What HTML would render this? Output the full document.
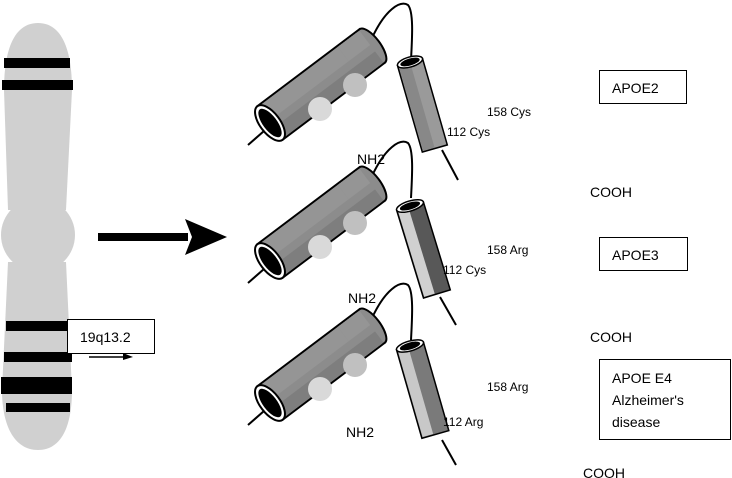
<!DOCTYPE html>
<html><head><meta charset="utf-8"><style>
html,body{margin:0;padding:0;background:#fff;}
svg{display:block;}
text{font-family:"Liberation Sans",sans-serif;fill:#000;}
</style></head><body>
<svg width="732" height="478" viewBox="0 0 732 478" xmlns="http://www.w3.org/2000/svg">
<!-- chromosome -->
<path d="M38,23 C62,23 72,50 72,90 L66,210 L8,210 L4,90 C4,50 14,23 38,23 Z" fill="#d0d0d0"/>
<path d="M8,262 L66,262 L72,390 C72,425 62,450 38,450 C14,450 2,425 2,390 Z" fill="#d0d0d0"/>
<circle cx="38" cy="235" r="37" fill="#d0d0d0"/>
<rect x="4" y="58" width="66" height="10" fill="#000"/>
<rect x="2" y="80" width="71" height="10" fill="#000"/>
<rect x="6" y="321" width="64" height="10" fill="#000"/>
<rect x="4" y="352" width="68" height="10" fill="#000"/>
<rect x="1" y="377" width="71" height="17" fill="#000"/>
<rect x="6" y="403" width="64" height="9" fill="#000"/>
<rect x="67.5" y="319.5" width="87" height="34" fill="#fff" stroke="#000" stroke-width="1"/>
<text x="80" y="342" font-size="14">19q13.2</text>
<line x1="89" y1="357" x2="125" y2="357" stroke="#000" stroke-width="1.5"/>
<polygon points="123,353 133,357 123,360" fill="#000"/>
<!-- big arrow -->
<rect x="98" y="233" width="90" height="8" fill="#000"/>
<polygon points="185,219 227,237 185,255 192,237" fill="#000"/>

<defs>
<g id="big">
  <line x1="248" y1="145" x2="272" y2="124" stroke="#000" stroke-width="2"/>
  <path d="M372,38 C385,10 400,0 408,5 C414,12 412,40 411,60" fill="none" stroke="#000" stroke-width="2"/>
  <g transform="translate(270,123) rotate(-37)">
    <rect x="0" y="-21" width="128" height="42" fill="#8c8c8c" stroke="#000" stroke-width="2"/>
    <rect x="1" y="-20" width="127" height="18" fill="#959595"/>
    <rect x="1" y="6" width="127" height="14" fill="#7e7e7e"/>
    <ellipse cx="128" cy="0" rx="8" ry="21" fill="#8c8c8c" stroke="#000" stroke-width="2"/>
    <rect x="100" y="-20" width="27" height="40" fill="#8c8c8c"/>
    <rect x="100" y="-20" width="27" height="18" fill="#959595"/>
    <rect x="100" y="6" width="27" height="14" fill="#7e7e7e"/>
    <ellipse cx="0" cy="0" rx="10" ry="21" fill="#fff" stroke="#000" stroke-width="2"/>
    <ellipse cx="0" cy="0" rx="7" ry="17" fill="#000"/>
  </g>
  <circle cx="320" cy="109" r="12" fill="#d9d9d9"/>
  <circle cx="355" cy="85" r="12" fill="#c0c0c0"/>
</g>
</defs>

<!-- group 1 -->
<use href="#big"/>
<line x1="442" y1="150" x2="458" y2="180" stroke="#000" stroke-width="2"/>
<g transform="translate(410,62) rotate(74)">
  <rect x="0" y="-13" width="90" height="26" fill="#9a9a9a" stroke="#000" stroke-width="1.5"/>
  <rect x="1" y="0" width="88" height="12" fill="#888"/>
  <ellipse cx="0" cy="0" rx="5" ry="13" fill="#fff" stroke="#000" stroke-width="1.5"/>
  <ellipse cx="0" cy="0" rx="3.5" ry="10" fill="#000"/>
</g>
<!-- group 2 -->
<use href="#big" transform="translate(0,138)"/>
<line x1="440" y1="297" x2="456" y2="325" stroke="#000" stroke-width="2"/>
<g transform="translate(410,206) rotate(73)">
  <rect x="0" y="-14" width="92" height="28" fill="#585858" stroke="#000" stroke-width="1.5"/>
  <rect x="1" y="2" width="90" height="11" fill="#d0d0d0"/>
  <ellipse cx="0" cy="0" rx="5" ry="14" fill="#fff" stroke="#000" stroke-width="1.5"/>
  <ellipse cx="0" cy="0" rx="3.5" ry="10.5" fill="#000"/>
</g>
<!-- group 3 -->
<use href="#big" transform="translate(0,280)"/>
<line x1="442" y1="440" x2="456" y2="465" stroke="#000" stroke-width="2"/>
<g transform="translate(410,346) rotate(74)">
  <rect x="0" y="-14" width="92" height="28" fill="#7a7a7a" stroke="#000" stroke-width="1.5"/>
  <rect x="1" y="2" width="90" height="11" fill="#c8c8c8"/>
  <ellipse cx="0" cy="0" rx="5" ry="14" fill="#fff" stroke="#000" stroke-width="1.5"/>
  <ellipse cx="0" cy="0" rx="3.5" ry="10.5" fill="#000"/>
</g>

<!-- labels -->
<g font-size="12">
<text x="487" y="116">158 Cys</text>
<text x="447" y="136">112 Cys</text>
<text x="487" y="254">158 Arg</text>
<text x="443" y="274">112 Cys</text>
<text x="487" y="391">158 Arg</text>
<text x="443" y="426">112 Arg</text>
</g>
<g font-size="14">
<text x="357" y="164">NH2</text>
<text x="348" y="303">NH2</text>
<text x="346" y="437">NH2</text>
<text x="590" y="197">COOH</text>
<text x="590" y="342">COOH</text>
<text x="583" y="478">COOH</text>
</g>
<rect x="599.5" y="70.5" width="87" height="33" fill="none" stroke="#000"/>
<text x="612" y="93" font-size="14">APOE2</text>
<rect x="599.5" y="237.5" width="88" height="33" fill="none" stroke="#000"/>
<text x="612" y="260" font-size="14">APOE3</text>
<rect x="599.5" y="359.5" width="131" height="80" fill="none" stroke="#000"/>
<text x="612" y="383" font-size="14">APOE E4</text>
<text x="612" y="405" font-size="14">Alzheimer's</text>
<text x="612" y="427" font-size="14">disease</text>
</svg>
</body></html>
